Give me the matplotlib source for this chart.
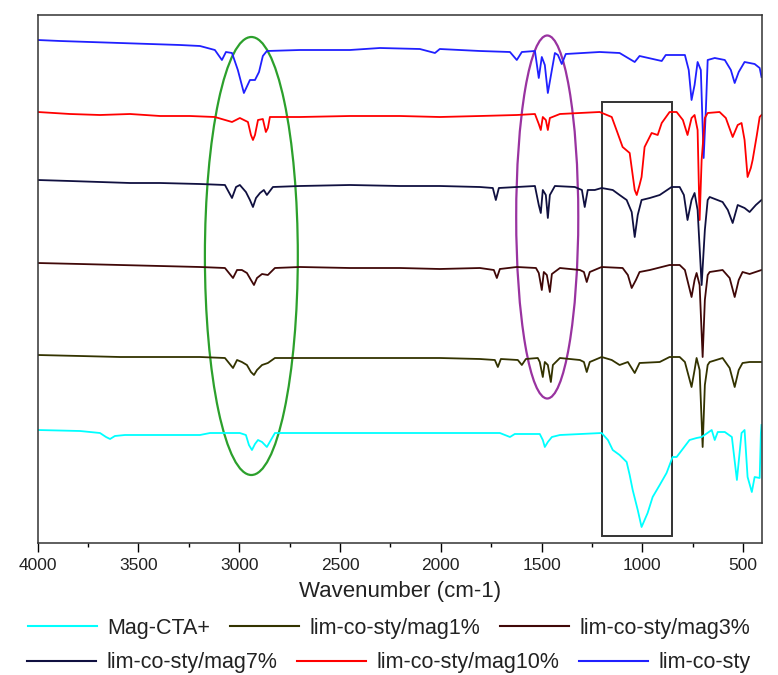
import matplotlib.pyplot as plt
from matplotlib.patches import Ellipse, Rectangle
from matplotlib.lines import Line2D

# wavenumber (cm-1) / offset transmittance (a.u.)
wn_cta = [4000, 3790, 3691, 3661, 3641, 3617, 3567, 3393, 3195, 3145, 2997, 2967, 2952, 2937,
          2922, 2907, 2887, 2863, 2843, 2823, 2699, 2451, 2203, 2005, 1707, 1682, 1657, 1633,
          1509, 1494, 1484, 1469, 1449, 1409, 1202, 1171, 1147, 1113, 1078, 1063, 1048, 1023,
          1004, 989, 974, 949, 914, 880, 850, 830, 766, 731, 706, 656, 641, 626, 591, 556,
          531, 508, 493, 478, 457, 443, 418, 412, 409]
t_cta = [115, 114, 112, 108, 106, 109, 110, 110, 110, 112, 112, 110, 100, 95,
         101, 105, 103, 98, 105, 112, 112, 112, 112, 112, 112, 110, 108, 111,
         111, 105, 98, 103, 108, 110, 112, 105, 95, 90, 83, 70, 55, 35,
         18, 25, 32, 48, 60, 72, 88, 88, 105, 107, 108, 115, 105, 113, 113, 108,
         65, 112, 115, 68, 53, 68, 67, 112, 120]

wn_m1 = [4000, 3790, 3592, 3393, 3195, 3071, 3031, 3011, 2987, 2962, 2942, 2927, 2912, 2887,
         2858, 2823, 2699, 2451, 2203, 2005, 1806, 1732, 1717, 1702, 1618, 1598, 1578, 1519,
         1509, 1494, 1484, 1469, 1454, 1444, 1409, 1310, 1290, 1276, 1261, 1202, 1152, 1113,
         1072, 1038, 1014, 914, 865, 815, 789, 756, 741, 731, 716, 701, 690, 676, 666, 602,
         567, 542, 522, 503, 468, 409]
t_m1 = [190, 189, 188, 188, 188, 187, 177, 185, 183, 180, 173, 170, 175, 180,
        182, 187, 187, 187, 187, 187, 186, 185, 178, 186, 185, 180, 186, 187,
        183, 168, 183, 180, 163, 180, 187, 185, 183, 173, 183, 188, 185, 180,
        183, 172, 182, 183, 188, 188, 183, 158, 175, 187, 175, 98, 160, 180, 183, 187,
        177, 158, 175, 182, 183, 183]

wn_m3 = [4000, 3790, 3592, 3393, 3195, 3071, 3031, 3011, 2987, 2962, 2942, 2927, 2912, 2887,
         2858, 2823, 2699, 2451, 2203, 2005, 1806, 1737, 1722, 1707, 1623, 1528, 1514, 1499,
         1489, 1474, 1459, 1449, 1409, 1310, 1290, 1276, 1261, 1202, 1098, 1072, 1053, 1032,
         1014, 963, 865, 815, 789, 756, 741, 731, 716, 701, 690, 676, 666, 602, 567, 542,
         522, 503, 468, 409]
t_m3 = [282, 281, 280, 279, 278, 277, 267, 275, 275, 272, 265, 260, 267, 271,
        270, 277, 278, 277, 277, 276, 277, 275, 267, 276, 278, 277, 272, 255,
        273, 270, 253, 271, 277, 275, 273, 263, 273, 278, 277, 270, 257, 265,
        273, 275, 280, 280, 275, 248, 265, 272, 260, 188, 245, 270, 273, 275, 267, 248,
        265, 273, 271, 275]

wn_m7 = [4000, 3840, 3691, 3542, 3393, 3195, 3071, 3036, 3016, 2997, 2967, 2947, 2932, 2917,
         2897, 2878, 2863, 2833, 2699, 2451, 2203, 2005, 1806, 1742, 1727, 1712, 1623, 1533,
         1514, 1504, 1494, 1479, 1469, 1459, 1434, 1335, 1300, 1286, 1271, 1236, 1202, 1147,
         1113, 1078, 1053, 1038, 1023, 1004, 963, 914, 855, 815, 794, 776, 756, 741, 726,
         706, 690, 676, 666, 602, 576, 552, 527, 493, 468, 437, 409]
t_m7 = [365, 364, 363, 362, 362, 361, 360, 347, 358, 360, 353, 345, 338, 347,
        352, 355, 350, 358, 359, 360, 359, 359, 358, 357, 345, 357, 358, 359,
        340, 332, 355, 350, 327, 350, 359, 358, 355, 338, 355, 355, 357, 355,
        350, 345, 333, 308, 330, 345, 347, 350, 358, 358, 350, 325, 345, 352, 335,
        260, 315, 345, 348, 343, 335, 322, 340, 337, 333, 340, 345]

wn_m10 = [4000, 3840, 3691, 3542, 3393, 3245, 3121, 3036, 2997, 2957, 2942, 2932, 2922, 2907,
          2883, 2868, 2858, 2848, 2699, 2451, 2203, 2005, 1806, 1623, 1533, 1514, 1504, 1494,
          1479, 1469, 1459, 1409, 1212, 1152, 1123, 1098, 1063, 1038, 1028, 1014, 1004, 989,
          954, 924, 904, 865, 830, 799, 776, 756, 741, 726, 716, 706, 690, 676, 617, 586,
          552, 527, 508, 493, 478, 462, 453, 432, 418, 409]
t_m10 = [433, 431, 430, 431, 429, 429, 428, 423, 427, 423, 410, 405, 410, 425,
         426, 413, 417, 428, 428, 429, 429, 428, 429, 430, 431, 421, 415, 428,
         425, 415, 427, 431, 433, 428, 412, 398, 392, 355, 350, 360, 368, 398,
         412, 410, 422, 433, 433, 425, 410, 427, 430, 415, 325, 385, 427, 432, 433, 427,
         408, 420, 422, 405, 368, 377, 385, 410, 428, 430]

wn_sty = [4000, 3889, 3741, 3592, 3443, 3294, 3195, 3121, 3086, 3066, 3036, 3007, 2977, 2947,
          2922, 2902, 2883, 2863, 2699, 2451, 2302, 2104, 2029, 2005, 1806, 1657, 1623, 1598,
          1533, 1514, 1499, 1484, 1469, 1449, 1434, 1419, 1400, 1380, 1212, 1113, 1038, 1014,
          904, 884, 789, 770, 756, 741, 726, 710, 696, 685, 676, 641, 591, 561, 542, 522,
          493, 443, 418, 409]
t_sty = [505, 504, 503, 502, 501, 500, 499, 495, 485, 493, 492, 475, 452, 465,
         465, 473, 489, 494, 495, 495, 497, 496, 492, 496, 494, 493, 485, 493,
         494, 467, 488, 480, 452, 475, 492, 490, 481, 491, 493, 492, 483, 489,
         484, 490, 490, 475, 445, 460, 483, 475, 387, 435, 485, 487, 485, 475, 462, 473,
         483, 481, 477, 468]

labels = ["Mag-CTA+", "lim-co-sty/mag1%", "lim-co-sty/mag3%",
          "lim-co-sty/mag7%", "lim-co-sty/mag10%", "lim-co-sty"]
colors = ["#00ffff", "#333300", "#400808", "#101040", "#ff0000", "#2020ff"]
series = [(wn_cta, t_cta), (wn_m1, t_m1), (wn_m3, t_m3),
          (wn_m7, t_m7), (wn_m10, t_m10), (wn_sty, t_sty)]

plt.rcParams['font.family'] = ['Liberation Sans', 'DejaVu Sans']

fig = plt.figure(figsize=(7.78, 6.75), dpi=100)
ax = fig.add_axes([37.7 / 778, 132 / 675, 724.6 / 778, 528 / 675])

# draw the top spectrum first so lower ones overlap like in the original
for (wn, t), c in zip(series[::-1], colors[::-1]):
    ax.plot(wn, t, color=c, lw=1.3)

# highlighted regions
ax.add_patch(Ellipse((2940, 289), 461, 438, fill=False, ec="#2ca02c", lw=1.6))
ax.add_patch(Ellipse((1472, 328), 308, 363, fill=False, ec="#9933a0", lw=1.6))
ax.add_patch(Rectangle((855, 9), 347, 434, fill=False, ec="#333333", lw=1.4))

ax.set_xlim(4000, 405)
ax.set_ylim(2, 530)
ax.set_xticks(range(4000, 499, -500))
ax.set_xticks(range(3750, 499, -500), minor=True)
ax.set_yticks([])
ax.tick_params(axis='x', which='major', direction='out', length=6.5, width=1, labelsize=12.5,
               pad=4, labelcolor="#222222")
ax.tick_params(axis='x', which='minor', direction='out', length=3, width=1)
for s in ax.spines.values():
    s.set_color("#333333")
    s.set_linewidth(1.1)
ax.set_xlabel("Wavenumber (cm-1)", fontsize=16, labelpad=6, color="#222222")

handles = [Line2D([], [], color=c, lw=1.5) for c in colors]
leg_kw = dict(loc='center', ncol=3, frameon=False, fontsize=15.5, handlelength=3.2,
              handletextpad=0.5, columnspacing=0.9, borderaxespad=0, labelcolor="#222222")
fig.legend(handles[:3], labels[:3], bbox_to_anchor=(0.5, 0.0696), **leg_kw)
fig.legend(handles[3:], labels[3:], bbox_to_anchor=(0.5, 0.0178), **leg_kw)

fig.savefig("out.png", dpi=100)
